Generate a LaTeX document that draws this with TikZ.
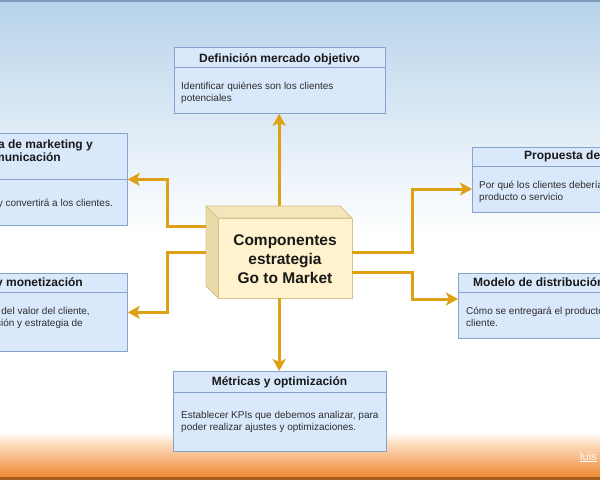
\documentclass[tikz,border=0pt]{standalone}
\usepackage{fontspec}
\setmainfont{Liberation Sans}
\usetikzlibrary{arrows.meta,calc}
\definecolor{boxfill}{RGB}{218,232,252}
\definecolor{boxline}{RGB}{135,162,205}
\definecolor{gold}{RGB}{222,160,20}
\definecolor{bgtop}{RGB}{183,211,234}
\definecolor{topline}{RGB}{125,155,185}
\definecolor{peach}{RGB}{252,214,180}
\definecolor{orangeb}{RGB}{238,138,52}
\definecolor{bline}{RGB}{170,95,30}
\definecolor{cubefront}{RGB}{255,242,204}
\definecolor{cubetop}{RGB}{244,229,186}
\definecolor{cubeleft}{RGB}{236,219,170}
\definecolor{cubeline}{RGB}{214,194,140}
\definecolor{bodytext}{RGB}{45,45,45}
\begin{document}
\begin{tikzpicture}[x=1pt,y=-1pt,
  panel/.style={draw=boxline, fill=boxfill, line width=0.8pt, anchor=north west, inner sep=0pt},
  divline/.style={draw=boxline, line width=0.8pt},
  hd/.style={anchor=base, inner sep=0pt, text=black!90, font=\bfseries\fontsize{12}{14}\selectfont},
  hde/.style={hd, anchor=base east},
  hdw/.style={hd, anchor=base west},
  bd/.style={anchor=base west, inner sep=0pt, text=bodytext, font=\fontsize{10}{12}\selectfont},
  bde/.style={bd, anchor=base east},
  core/.style={anchor=base, inner sep=0pt, text=black!90, font=\bfseries\fontsize{15.5}{19}\selectfont},
  arr/.style={draw=gold, line width=3pt, -{Stealth[length=12pt,width=13pt,inset=3pt]}},
  cubeface/.style={draw=cubeline, line width=0.8pt, line join=round}
]
\useasboundingbox (0,0) rectangle (600,480);
% background
\fill[white] (0,0) rectangle (600,480);
\shade[top color=bgtop, bottom color=white] (0,0) rectangle (600,235);
\shade[top color=white, bottom color=peach] (0,432) rectangle (600,446);
\shade[top color=peach, bottom color=orangeb] (0,446) rectangle (600,477);
\fill[bline] (0,477) rectangle (600,480);
\fill[topline] (0,0) rectangle (600,2);

% panels
\node[panel, minimum width=211pt, minimum height=66pt] (mo) at (174,47) {};
\draw[divline] ($(mo.north west)+(0,20)$) -- ($(mo.north east)+(0,20)$);
\node[hd] (moh) at (279.5,62) {Definición mercado objetivo};
\node[bd] (mob1) at (181,89) {Identificar quiénes son los clientes};
\node[bd] (mob2) at (181,101.5) {potenciales};

\node[panel, minimum width=212pt, minimum height=92pt] (mk) at (-85,133) {};
\draw[divline] ($(mk.north west)+(0,46)$) -- ($(mk.north east)+(0,46)$);
\node[hde] (mkh1) at (93,148) {a de marketing y};
\node[hde] (mkh2) at (61,161) {municación};
\node[bde] (mkb1) at (113,206) {y convertirá a los clientes.};

\node[panel, minimum width=212pt, minimum height=78pt] (pm) at (-85,273) {};
\draw[divline] ($(pm.north west)+(0,19)$) -- ($(pm.north east)+(0,19)$);
\node[hde] (pmh) at (83,286) {y monetización};
\node[bde] (pmb1) at (90,314) {n del valor del cliente,};
\node[bde] (pmb2) at (83,326) {ción y estrategia de};

\node[panel, minimum width=212pt, minimum height=65pt] (pv) at (472,147) {};
\draw[divline] ($(pv.north west)+(0,19)$) -- ($(pv.north east)+(0,19)$);
\node[hdw] (pvh) at (524,159) {Propuesta de};
\node[bd] (pvb1) at (479,188) {Por qué los clientes deberían};
\node[bd] (pvb2) at (479,200) {producto o servicio};

\node[panel, minimum width=212pt, minimum height=65pt] (md) at (458,273) {};
\draw[divline] ($(md.north west)+(0,19)$) -- ($(md.north east)+(0,19)$);
\node[hdw] (mdh) at (473,286) {Modelo de distribución};
\node[bd] (mdb1) at (466,314) {Cómo se entregará el producto};
\node[bd] (mdb2) at (466,326) {cliente.};

\node[panel, minimum width=213pt, minimum height=80pt] (mt) at (173,371) {};
\draw[divline] ($(mt.north west)+(0,21)$) -- ($(mt.north east)+(0,21)$);
\node[hd] (mth) at (279.5,385) {Métricas y optimización};
\node[bd] (mtb1) at (181,418) {Establecer KPIs que debemos analizar, para};
\node[bd] (mtb2) at (181,430.5) {poder realizar ajustes y optimizaciones.};

% central cube
\node[anchor=north west, inner sep=0pt, minimum width=146pt, minimum height=92pt] (cube) at (206,206) {};
\filldraw[cubeface, fill=cubefront] (218,218) rectangle (352,298);
\filldraw[cubeface, fill=cubetop] (206,206) -- (340,206) -- (352,218) -- (218,218) -- cycle;
\filldraw[cubeface, fill=cubeleft] (206,206) -- (218,218) -- (218,298) -- (206,286) -- cycle;
\node[core] (c1) at (285,245) {Componentes};
\node[core] (c2) at (285,264) {estrategia};
\node[core] (c3) at (285,283) {Go to Market};

% connectors
\draw[arr] (cube.north) -- (cube.north |- mo.south);
\draw[arr] (cube.south) -- (cube.south |- mt.north);
\draw[arr] ($(cube.north west)+(0,20)$) -- ++(-39,0) |- (mk.east);
\draw[arr] ($(cube.north west)+(0,46)$) -- ++(-39,0) |- (pm.east);
\draw[arr] ($(cube.north east)+(0,46)$) -- ++(60,0) |- ($(pv.north west)+(0,42)$);
\draw[arr] ($(cube.north east)+(0,66)$) -- ++(60,0) |- ($(md.north west)+(0,26)$);

% watermark
\node[anchor=base west, inner sep=0pt, text=white, font=\fontsize{11}{13}\selectfont] (wm) at (580,460) {\underline{luis}};
\end{tikzpicture}
\end{document}
